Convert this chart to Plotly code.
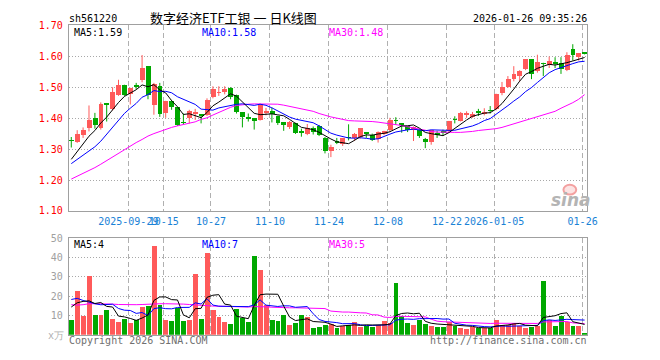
import pandas as pd
import plotly.graph_objects as go

W, H = 660, 360

# ---------------- data ----------------
holidays = ["2025-10-01", "2025-10-02", "2025-10-03", "2025-10-06", "2025-10-07",
            "2025-10-08", "2026-01-01", "2026-01-02"]
dates = pd.bdate_range("2025-09-15", "2026-01-26", freq="C", holidays=holidays)

tick_dates = ["2025-09-29", "2025-10-15", "2025-10-27", "2025-11-10", "2025-11-24",
              "2025-12-08", "2025-12-22", "2026-01-05", "2026-01-26"]
tick_text = ["2025-09-29", "10-15", "10-27", "11-10", "11-24", "12-08", "12-22",
             "2026-01-05", "01-26"]

opens = [1.327, 1.323, 1.346, 1.366, 1.398, 1.366, 1.447, 1.430, 1.475, 1.507,
         1.477, 1.504, 1.521, 1.567, 1.443, 1.504, 1.415, 1.455, 1.435, 1.386,
         1.399, 1.415, 1.411, 1.409, 1.467, 1.481, 1.482, 1.495, 1.474, 1.418,
         1.403, 1.399, 1.393, 1.415, 1.422, 1.407, 1.385, 1.371, 1.383, 1.356,
         1.347, 1.366, 1.375, 1.336, 1.292, 1.322, 1.314, 1.337, 1.336, 1.339,
         1.354, 1.345, 1.333, 1.349, 1.359, 1.392, 1.381, 1.374, 1.359, 1.362,
         1.333, 1.321, 1.352, 1.355, 1.357, 1.396, 1.391, 1.409, 1.404, 1.423,
         1.411, 1.425, 1.430, 1.479, 1.501, 1.524, 1.536, 1.557, 1.589, 1.552,
         1.577, 1.571, 1.579, 1.578, 1.555, 1.621, 1.595, 1.610]
highs = [1.339, 1.361, 1.370, 1.441, 1.417, 1.451, 1.449, 1.500, 1.524, 1.508,
         1.498, 1.514, 1.604, 1.568, 1.514, 1.514, 1.456, 1.459, 1.436, 1.415,
         1.427, 1.430, 1.412, 1.464, 1.503, 1.503, 1.503, 1.500, 1.476, 1.419,
         1.415, 1.400, 1.446, 1.433, 1.434, 1.408, 1.386, 1.391, 1.385, 1.366,
         1.381, 1.373, 1.378, 1.339, 1.314, 1.336, 1.336, 1.380, 1.352, 1.368,
         1.355, 1.350, 1.357, 1.359, 1.401, 1.403, 1.384, 1.375, 1.373, 1.364,
         1.336, 1.362, 1.359, 1.363, 1.391, 1.406, 1.420, 1.422, 1.420, 1.430,
         1.432, 1.439, 1.479, 1.517, 1.536, 1.568, 1.555, 1.589, 1.590, 1.605,
         1.579, 1.599, 1.597, 1.597, 1.613, 1.639, 1.610, 1.612]
lows = [1.305, 1.320, 1.336, 1.357, 1.366, 1.363, 1.389, 1.425, 1.472, 1.472,
        1.444, 1.493, 1.516, 1.461, 1.411, 1.404, 1.401, 1.427, 1.375, 1.378,
        1.383, 1.394, 1.383, 1.407, 1.464, 1.472, 1.477, 1.461, 1.415, 1.370,
        1.389, 1.363, 1.392, 1.409, 1.386, 1.378, 1.359, 1.365, 1.349, 1.340,
        1.345, 1.347, 1.342, 1.286, 1.274, 1.316, 1.310, 1.328, 1.326, 1.334,
        1.336, 1.326, 1.321, 1.345, 1.355, 1.378, 1.353, 1.355, 1.326, 1.336,
        1.303, 1.314, 1.336, 1.345, 1.355, 1.383, 1.389, 1.401, 1.401, 1.407,
        1.409, 1.415, 1.425, 1.474, 1.498, 1.519, 1.519, 1.555, 1.526, 1.547,
        1.536, 1.562, 1.562, 1.543, 1.552, 1.586, 1.586, 1.606]
closes = [1.325, 1.347, 1.360, 1.392, 1.376, 1.446, 1.443, 1.482, 1.505, 1.475,
          1.495, 1.502, 1.560, 1.475, 1.509, 1.411, 1.453, 1.435, 1.376, 1.384,
          1.423, 1.418, 1.407, 1.459, 1.492, 1.483, 1.493, 1.467, 1.420, 1.401,
          1.399, 1.391, 1.445, 1.423, 1.411, 1.383, 1.376, 1.386, 1.352, 1.354,
          1.366, 1.355, 1.344, 1.293, 1.305, 1.320, 1.334, 1.335, 1.347, 1.366,
          1.347, 1.329, 1.355, 1.357, 1.392, 1.390, 1.379, 1.359, 1.370, 1.340,
          1.321, 1.359, 1.344, 1.353, 1.389, 1.394, 1.417, 1.417, 1.413, 1.415,
          1.420, 1.423, 1.477, 1.501, 1.526, 1.542, 1.552, 1.589, 1.543, 1.579,
          1.575, 1.584, 1.577, 1.557, 1.604, 1.602, 1.609, 1.608]
# closes of the 9 sessions before the window (feed the first MA5/MA10 points)
prior_closes = [1.215, 1.225, 1.240, 1.250, 1.265, 1.220, 1.235, 1.270, 1.284]
ma30 = [1.203, 1.212, 1.221, 1.229, 1.240, 1.251, 1.263, 1.275, 1.286, 1.298,
        1.310, 1.321, 1.331, 1.342, 1.350, 1.357, 1.364, 1.370, 1.375, 1.379,
        1.383, 1.388, 1.396, 1.401, 1.410, 1.418, 1.428, 1.435, 1.441, 1.444,
        1.445, 1.446, 1.446, 1.446, 1.446, 1.445, 1.442, 1.438, 1.435, 1.431,
        1.427, 1.422, 1.415, 1.409, 1.404, 1.400, 1.396, 1.392, 1.391, 1.391,
        1.391, 1.389, 1.387, 1.385, 1.383, 1.379, 1.376, 1.372, 1.368, 1.364,
        1.360, 1.357, 1.355, 1.354, 1.354, 1.354, 1.354, 1.355, 1.357, 1.360,
        1.362, 1.363, 1.366, 1.370, 1.376, 1.382, 1.387, 1.393, 1.398, 1.404,
        1.410, 1.416, 1.422, 1.432, 1.440, 1.450, 1.461, 1.476]

volumes = [7.7, 22.7, 9.8, 30.2, 10.2, 10.2, 12.7, 8.2, 6.7, 8.2,
           6.2, 7.7, 14.2, 14.7, 45.7, 15.3, 7.7, 7.2, 13.8, 7.2,
           7.7, 31.2, 8.2, 42.2, 12.7, 9.2, 6.7, 5.7, 13.5, 8.7,
           6.7, 40.7, 33.7, 15.2, 7.7, 7.2, 10.2, 5.2, 6.2, 10.2,
           9.2, 3.2, 4.2, 5.2, 5.5, 3.2, 4.7, 5.2, 6.7, 4.2,
           4.7, 4.2, 5.0, 7.2, 6.2, 26.7, 9.7, 6.2, 5.2, 7.7,
           5.7, 4.7, 4.2, 4.2, 6.7, 4.7, 3.2, 2.7, 4.2, 3.5,
           3.5, 3.5, 7.7, 5.2, 5.2, 6.2, 4.7, 3.2, 4.2, 4.7,
           27.7, 7.7, 4.7, 9.7, 6.7, 4.7, 4.7, 0.7]
prior_volumes = [16.7, 20.8, 39.2, 18.2, 15.6, 11.7, 6.3, 28.7, 17.1]
vol_ma30 = [15.5, 15.3, 15.5, 16.0, 16.0, 16.0, 16.0, 15.8, 15.6, 15.5,
            15.5, 15.5, 15.6, 15.8, 16.0, 16.0, 16.0, 16.0, 16.0, 15.8,
            15.6, 15.5, 15.2, 15.0, 14.8, 14.7, 14.6, 14.5, 14.4, 14.3,
            14.3, 14.5, 14.6, 14.4, 14.2, 14.0, 14.0, 13.9, 13.9, 13.8,
            13.8, 13.7, 13.6, 13.5, 12.2, 11.8, 11.7, 11.7, 11.4, 11.3,
            11.2, 10.3, 10.2, 9.1, 8.9, 9.4, 9.5, 9.5, 9.3, 9.2,
            9.2, 8.0, 7.0, 6.7, 6.6, 6.5, 6.3, 6.2, 6.2, 5.9,
            5.7, 5.8, 5.9, 5.9, 5.9, 6.0, 6.0, 5.9, 5.8, 5.8,
            6.6, 6.7, 6.7, 6.8, 6.8, 6.1, 5.9, 5.7]

title_code = "sh561220"
title_name = "数字经济ETF工银 一 日K线图"
timestamp = "2026-01-26 09:35:26"
price_ma_labels = ["MA5:1.59", "MA10:1.58", "MA30:1.48"]
vol_ma_labels = ["MA5:4", "MA10:7", "MA30:5"]
price_ticks = [1.10, 1.20, 1.30, 1.40, 1.50, 1.60, 1.70]
vol_ticks = [10, 20, 30, 40, 50]

# ---------------- derived ----------------
n = len(dates)
idx = list(range(n))
cs = pd.Series(prior_closes + closes)
ma5 = cs.rolling(5).mean().tolist()[len(prior_closes):]
ma10 = cs.rolling(10).mean().tolist()[len(prior_closes):]
vs = pd.Series(prior_volumes + volumes)
vma5 = vs.rolling(5).mean().tolist()[len(prior_volumes):]
vma10 = vs.rolling(10).mean().tolist()[len(prior_volumes):]

date_strs = [d.strftime("%Y-%m-%d") for d in dates]
tick_pos = [date_strs.index(d) - 1 / 3 for d in tick_dates]

RED = "#ff5a5a"
GREEN = "#00a800"
up = [c >= o for o, c in zip(opens, closes)]
colors = [RED if u else GREEN for u in up]

MONO = "DejaVu Sans Mono"
fig = go.Figure()

# wicks
for flag, col in ((True, RED), (False, GREEN)):
    wx, wy = [], []
    for i in idx:
        if up[i] == flag:
            wx += [i, i, None]
            wy += [lows[i], highs[i], None]
    fig.add_trace(go.Scatter(x=wx, y=wy, mode="lines", line=dict(color=col, width=1),
                             hoverinfo="skip", xaxis="x", yaxis="y"))

# bodies
fig.add_trace(go.Bar(
    x=idx,
    base=[min(o, c) for o, c in zip(opens, closes)],
    y=[max(abs(c - o), 0.0012) for o, c in zip(opens, closes)],
    width=5 / 6, marker=dict(color=colors, line=dict(width=0)),
    xaxis="x", yaxis="y"))

# price MAs
fig.add_trace(go.Scatter(x=idx, y=ma30, mode="lines", line=dict(color="#ff00ff", width=1),
                         xaxis="x", yaxis="y"))
fig.add_trace(go.Scatter(x=idx, y=ma10, mode="lines", line=dict(color="#0000ff", width=1),
                         xaxis="x", yaxis="y"))
fig.add_trace(go.Scatter(x=idx, y=ma5, mode="lines", line=dict(color="#000000", width=1),
                         xaxis="x", yaxis="y"))

# volume bars
fig.add_trace(go.Bar(x=idx, y=volumes, width=5 / 6,
                     marker=dict(color=colors, line=dict(width=0)),
                     xaxis="x2", yaxis="y2"))
fig.add_trace(go.Scatter(x=idx, y=vol_ma30, mode="lines", line=dict(color="#ff00ff", width=1),
                         xaxis="x2", yaxis="y2"))
fig.add_trace(go.Scatter(x=idx, y=vma10, mode="lines", line=dict(color="#0000ff", width=1),
                         xaxis="x2", yaxis="y2"))
fig.add_trace(go.Scatter(x=idx, y=vma5, mode="lines", line=dict(color="#000000", width=1),
                         xaxis="x2", yaxis="y2"))

L, R = 70, 597
xdom = [L / W, R / W]
xr = [-1 / 3 - 1 / 12, (R - 72) / 6 - 1 / 12]
FRAME = "#a0a0a0"

common_x = dict(domain=xdom, range=xr, showline=True, linecolor=FRAME, linewidth=1,
                mirror=True, zeroline=False, ticks="", tickmode="array",
                tickvals=tick_pos, showgrid=True, gridcolor="#b0b0b0",
                griddash="5px,3px", gridwidth=1, fixedrange=True, tickangle=0)

fig.update_layout(
    width=W, height=H, margin=dict(l=0, r=0, t=0, b=0),
    paper_bgcolor="white", plot_bgcolor="white",
    showlegend=False, bargap=0, bargroupgap=0, barmode="overlay",
    xaxis=dict(**common_x, anchor="y", ticktext=tick_text, showticklabels=True,
               tickfont=dict(family=MONO, size=10, color="#1a82d6"),
               ticklabelstandoff=1),
    xaxis2=dict(**common_x, anchor="y2", ticktext=tick_text, showticklabels=False),
    yaxis=dict(domain=[(H - 212) / H, (H - 20) / H], range=[1.10, 1.70],
               showline=True, linecolor=FRAME, linewidth=1, mirror=True,
               zeroline=False, ticks="", tickmode="array", tickvals=price_ticks,
               ticktext=[f"{v:.2f}" for v in price_ticks],
               tickfont=dict(family=MONO, size=10, color="#ff0000"),
               showgrid=True, gridcolor="#a8a8a8", griddash="1px,2px", gridwidth=1,
               ticklabelstandoff=3, fixedrange=True),
    yaxis2=dict(domain=[(H - 340) / H, (H - 240) / H], range=[0, 50],
                showline=True, linecolor=FRAME, linewidth=1, mirror=True,
                zeroline=False, ticks="", tickmode="array", tickvals=vol_ticks,
                ticktext=[str(v) for v in vol_ticks],
                tickfont=dict(family=MONO, size=10, color="#a0a0a0"),
                showgrid=True, gridcolor="#a8a8a8", griddash="1px,2px", gridwidth=1,
                ticklabelstandoff=3, fixedrange=True),
)


def ann(text, x, y, color, size=10, xanchor="left", family=MONO, **font_kw):
    fig.add_annotation(text=text, x=x / W, y=1 - y / H, xref="paper", yref="paper",
                       xanchor=xanchor, yanchor="middle", showarrow=False, borderpad=0,
                       font=dict(family=family, size=size, color=color, **font_kw))


ann(title_code, 69, 12.5, "#000000")
ann(title_name, 237, 11.5, "#000000", size=13, xanchor="center",
    family="Noto Sans CJK SC")
ann(timestamp, 598, 12.5, "#000000", xanchor="right")

ann(price_ma_labels[0], 74, 27.5, "#000000")
ann(price_ma_labels[1], 204, 27.5, "#0000ff")
ann(price_ma_labels[2], 334, 27.5, "#ff00ff")
ann(vol_ma_labels[0], 74, 246.5, "#000000")
ann(vol_ma_labels[1], 204, 246.5, "#0000ff")
ann(vol_ma_labels[2], 334, 246.5, "#ff00ff")

ann("x万", 66, 341, "#b0b0b0", size=10, xanchor="right")
ann("Copyright 2026 SINA.COM", 69, 346, "#707070")
ann("http://finance.sina.com.cn", 598, 346, "#707070", xanchor="right")

# sina watermark
fig.add_shape(type="circle", xref="paper", yref="paper",
              x0=573 / W, x1=586 / W, y0=1 - 195 / H, y1=1 - 185 / H,
              line=dict(color="#f3a0a0", width=2), fillcolor="rgba(250,200,200,0.5)")
ann("sina", 581, 201, "#b4b4b4", size=17, xanchor="center", family="DejaVu Sans",
    style="italic", weight="bold")

fig.write_html("out.html")
